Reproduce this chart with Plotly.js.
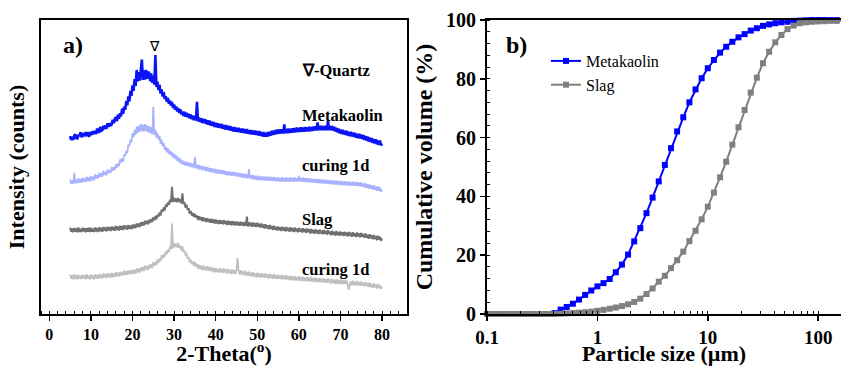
<!DOCTYPE html>
<html>
<head>
<meta charset="utf-8">
<script src="https://cdn.plot.ly/plotly-3.0.1.min.js"></script>
<style>html,body{margin:0;padding:0;background:#fff;}#chart{width:841px;height:366px;}</style>
</head>
<body>
<div id="chart"></div>
<script>
// ---------- Panel a) XRD patterns, 2-Theta from 5 to 80 in steps of 0.25 ----------
var thetaStart = 5;
var thetaStep = 0.25;
var xrdLabels = ["Metakaolin", "curing 1d", "Slag", "curing 1d"];

var metakaolin = [
60.5,59.2,60.2,59.2, 60.7,61.1,59.8,59.7, 60.9,60.5,61.8,60.1, 61.5,60.9,60.5,61.9, 60.5,61.9,60.6,60.7,
62.0,60.9,62.2,61.2, 62.3,61.2,63.1,61.7, 62.1,63.7,62.3,62.5, 64.0,62.9,64.2,63.0, 64.9,63.6,64.9,64.0,
64.5,66.1,64.9,66.3, 67.0,65.6,67.8,66.4, 68.3,67.2,69.8,68.1, 70.5,69.4,72.4,71.0, 74.0,72.3,75.9,74.2,
77.8,75.9,79.9,77.6, 83.0,79.1,82.3,79.4, 83.1,86.5,79.6,82.9, 79.7,83.0,80.0,82.4, 81.9,79.2,81.8,78.6,
81.1,78.0,88.1,77.2, 79.0,76.2,77.9,75.0, 76.4,74.0,75.4,73.1, 74.1,72.2,73.5,71.5, 72.6,70.9,72.1,70.1,
71.3,69.5,70.6,68.9, 70.1,68.4,69.6,67.9, 68.9,67.4,68.8,67.1, 68.4,66.9,68.1,66.5, 67.8,66.3,67.5,65.9,
67.3,65.8,72.2,65.5, 66.8,65.3,66.6,65.0, 66.4,64.9,66.2,64.6, 65.9,64.4,65.8,64.1, 65.5,64.0,65.3,63.6,
65.0,63.5,64.9,63.4, 64.7,63.2,64.6,63.0, 64.3,62.8,64.3,62.7, 64.0,62.5,63.9,62.3, 63.6,62.1,63.6,62.0,
63.3,61.9,63.3,61.8, 63.1,61.7,63.1,61.6, 62.9,61.4,62.9,61.3, 62.6,61.2,62.6,61.1, 62.4,61.0,62.4,60.9,
62.2,60.7,62.2,60.6, 61.9,60.4,61.9,60.3, 61.6,60.3,61.9,60.5, 62.0,60.7,62.3,60.9, 62.4,61.1,62.7,61.2,
62.7,61.3,62.8,61.4, 62.8,61.4,64.5,61.5, 62.9,61.5,63.1,61.6, 63.0,61.7,63.2,61.8, 63.2,61.8,63.4,61.9,
63.3,61.9,63.5,62.0, 63.4,62.0,63.6,62.1, 63.5,62.1,63.7,62.2, 63.6,62.3,63.8,62.4, 63.8,62.4,65.2,62.5,
63.9,62.5,64.0,62.5, 63.9,62.5,64.0,62.5, 65.8,62.5,64.0,62.5, 63.9,62.4,63.7,62.1, 63.3,61.8,63.1,61.5,
62.7,61.2,62.7,61.1, 62.4,60.9,62.3,60.7, 62.0,60.5,62.0,60.4, 61.7,60.2,61.6,60.0, 61.3,59.8,61.3,59.7,
61.0,59.5,60.9,59.2, 60.5,59.0,60.4,58.7, 60.0,58.5,59.9,58.2, 59.5,58.0,59.4,57.7, 59.0,57.5,59.0,57.4,
58.0];

var metakaolinCured = [
45.8,44.3,45.4,44.2, 48.0,44.5,45.7,44.4, 46.2,44.7,45.9,44.6, 46.4,45.0,46.1,44.9, 46.7,45.2,46.4,45.1,
46.9,45.5,46.7,45.5, 47.5,46.1,47.3,46.1, 48.1,46.7,47.9,46.7, 48.7,47.3,48.4,47.2, 49.2,47.9,49.0,48.0,
50.0,48.7,49.9,49.0, 50.9,49.8,51.3,50.3, 52.6,51.5,53.0,51.8, 54.3,53.7,55.6,54.7, 57.7,57.1,59.3,58.3,
61.5,60.1,62.6,60.9, 63.8,61.6,64.0,62.0, 64.6,62.2,64.4,62.0, 64.6,62.2,64.2,61.8, 63.9,61.5,63.6,61.1,
70.5,60.9,62.7,60.1, 61.6,59.3,60.6,57.9, 59.3,57.1,58.2,55.9, 56.9,55.0,56.4,54.4, 55.6,53.9,55.1,53.2,
54.5,52.7,54.0,52.1, 53.4,51.6,52.8,51.0, 52.2,50.8,51.9,50.4, 51.8,50.4,51.5,50.0, 51.4,50.0,51.1,49.6,
53.5,49.6,50.8,49.2, 50.7,49.2,50.4,48.9, 50.3,48.9,50.1,48.5, 50.0,48.5,49.7,48.2, 49.6,48.2,49.4,47.9,
49.3,47.9,49.1,47.7, 49.1,47.7,48.9,47.5, 48.9,47.4,48.6,47.2, 48.6,47.2,48.4,47.0, 48.4,47.0,48.2,46.8,
48.2,46.8,48.0,46.6, 48.0,46.5,47.7,46.3, 47.7,46.3,47.5,46.1, 49.3,46.1,47.2,45.8, 47.2,45.8,47.0,45.6,
47.0,45.6,46.8,45.5, 46.9,45.5,46.7,45.4, 46.8,45.4,46.6,45.3, 46.7,45.3,46.5,45.2, 46.6,45.2,46.4,45.1,
46.5,45.1,46.3,45.0, 46.5,45.1,46.3,45.0, 46.5,45.1,46.3,45.0, 46.5,45.1,46.3,45.0, 46.5,45.1,46.3,45.0,
47.0,45.1,46.3,45.0, 46.4,45.0,46.2,44.9, 46.3,44.9,46.1,44.7, 46.1,44.7,45.9,44.6, 46.0,44.6,45.8,44.5,
45.9,44.5,45.7,44.4, 45.8,44.4,45.6,44.3, 45.7,44.3,45.4,44.1, 45.5,44.1,45.3,44.0, 45.4,44.0,45.2,43.9,
45.3,43.9,45.1,43.8, 45.2,43.8,45.0,43.7, 45.1,43.7,44.9,43.6, 45.0,43.6,44.8,43.5, 44.9,43.5,44.7,43.4,
44.8,43.3,44.4,43.1, 44.5,42.9,44.1,42.7, 44.1,42.6,43.8,42.3, 43.8,42.2,43.4,41.9, 43.4,41.9,43.1,41.6,
42.2];

var slag = [
29.3,28.0,29.1,27.8, 29.3,28.0,29.1,27.8, 29.4,27.9,29.0,27.9, 29.3,28.1,29.2,27.8, 29.2,28.0,29.3,27.9,
29.3,28.0,29.1,27.9, 29.4,28.1,29.2,27.9, 29.5,28.2,29.3,28.0, 29.6,28.3,29.4,28.1, 29.7,28.4,29.5,28.2,
29.8,28.5,29.6,28.3, 29.9,28.6,29.7,28.4, 30.0,28.7,29.9,28.6, 30.2,28.9,30.0,28.7, 30.3,29.0,30.1,28.8,
30.4,29.2,30.4,29.2, 30.8,29.6,30.8,29.6, 31.2,30.0,31.3,30.1, 31.7,30.5,31.7,30.5, 32.1,31.0,32.3,31.3,
32.9,31.9,33.3,32.2, 33.8,33.1,34.5,33.5, 35.5,34.8,36.2,35.2, 37.2,36.5,37.9,37.1, 38.9,38.0,43.3,38.1,
39.5,38.2,39.3,38.0, 39.5,38.1,39.0,37.6, 41.0,37.4,38.0,36.2, 37.2,35.4,36.0,34.1, 35.0,33.5,34.4,33.0,
34.1,32.8,33.5,32.0, 33.2,32.0,33.0,31.6, 32.9,31.6,32.6,31.3, 32.6,31.3,32.3,31.0, 32.4,31.0,32.1,30.8,
32.1,30.8,31.9,30.6, 32.0,30.7,31.8,30.5, 31.9,30.6,31.6,30.3, 31.7,30.4,31.5,30.2, 31.6,30.3,31.4,30.1,
31.5,30.2,31.3,30.0, 31.4,30.1,31.2,29.9, 31.3,30.0,33.1,29.8, 31.2,29.9,31.0,29.7, 31.1,29.8,30.9,29.6,
31.0,29.7,30.7,29.4, 30.8,29.4,30.4,29.1, 30.5,29.2,30.2,28.8, 30.3,28.9,29.9,28.6, 30.0,28.7,29.7,28.4,
29.8,28.5,29.5,28.2, 29.7,28.4,29.4,28.1, 29.6,28.3,29.3,28.0, 29.5,28.2,29.2,27.9, 29.4,28.1,29.1,27.8,
29.3,28.0,29.0,27.7, 29.2,27.9,28.9,27.6, 29.1,27.8,28.8,27.4, 28.9,27.6,28.6,27.3, 28.8,27.5,28.5,27.2,
28.7,27.4,28.4,27.1, 28.6,27.3,28.3,27.0, 28.5,27.2,28.1,26.8, 28.3,27.0,28.0,26.7, 28.2,26.9,27.9,26.6,
28.1,26.8,27.8,26.5, 28.0,26.7,27.7,26.4, 27.9,26.6,27.6,26.3, 27.8,26.5,27.5,26.2, 27.7,26.4,27.4,26.1,
27.6,26.3,27.2,25.9, 27.4,26.0,27.0,25.6, 27.1,25.8,26.8,25.4, 26.9,25.5,26.5,25.1, 26.6,25.3,26.3,24.9,
25.7];

var slagCured = [
13.4,12.0,13.1,11.8, 13.5,11.9,13.2,11.8, 13.4,12.0,13.0,11.9, 13.3,12.1,13.2,11.8, 13.5,12.0,13.1,11.7,
13.4,12.0,13.1,11.8, 13.5,12.1,13.3,12.0, 13.6,12.2,13.4,12.1, 13.8,12.4,13.5,12.3, 13.9,12.5,13.7,12.4,
14.0,12.6,13.8,12.6, 14.2,12.8,14.0,12.8, 14.4,13.1,14.3,13.1, 14.7,13.4,14.5,13.3, 14.9,13.6,14.7,13.5,
15.1,13.8,15.0,13.7, 15.5,14.2,15.4,14.1, 15.9,14.6,15.9,14.6, 16.4,15.1,16.3,15.0, 16.8,15.6,16.9,15.7,
17.6,16.4,17.8,16.7, 18.5,17.4,18.9,18.0, 19.9,18.9,20.3,19.4, 21.3,20.3,21.9,21.1, 23.0,22.0,30.8,22.3,
24.2,22.8,23.9,22.6, 24.2,22.5,23.3,21.6, 23.0,21.1,21.6,19.9, 20.8,18.8,19.3,17.6, 18.5,16.9,17.9,16.3,
17.7,16.1,17.0,15.4, 16.8,15.3,16.4,14.9, 16.5,15.0,16.1,14.8, 16.3,14.8,15.9,14.5, 16.0,14.5,15.6,14.2,
15.7,14.3,15.3,14.1, 15.6,14.2,15.3,14.0, 15.5,14.1,15.1,13.8, 15.3,13.9,15.0,13.7, 15.2,13.8,14.9,13.6,
15.1,19.0,14.7,13.4, 14.9,13.5,14.5,13.2, 14.7,13.2,14.3,12.9, 14.4,13.0,14.0,12.7, 14.2,12.8,13.8,12.5,
14.0,12.6,13.7,12.4, 13.9,12.5,13.6,12.3, 13.8,12.4,13.4,12.1, 13.6,12.2,13.3,12.0, 13.5,12.1,13.2,11.9,
13.4,12.0,13.1,11.8, 13.3,11.9,13.0,11.7, 13.2,11.8,12.8,11.5, 13.0,11.6,12.7,11.4, 12.9,11.5,12.6,11.3,
12.8,11.4,12.5,11.2, 12.7,11.3,12.4,11.1, 12.6,11.2,12.3,11.0, 12.5,11.1,12.2,10.9, 12.4,11.0,12.1,10.8,
12.3,10.9,12.0,10.7, 12.2,10.8,11.9,10.6, 12.1,10.7,11.7,10.4, 11.9,10.5,11.6,10.3, 11.8,10.4,11.5,10.2,
11.7,10.3,11.4,10.1, 11.6,10.2,11.3,10.0, 8.2,10.1,11.1,9.8, 11.3,9.9,11.0,9.7, 11.2,9.8,10.9,9.6,
11.1,9.7,10.7,9.4, 10.9,9.5,10.5,9.2, 10.7,9.2,10.2,8.9, 10.4,9.0,10.0,8.7, 10.2,8.8,9.8,8.5,
9.3];

// ---------- Panel b) particle size distribution ----------
var particleSize = [
0.1,0.1136,0.1292,0.1468,0.1668,0.1896,0.2154,0.2448,0.2783,0.3162,
0.3594,0.4084,0.4642,0.5275,0.5995,0.6813,0.7743,0.8799,1.0,1.136,
1.292,1.468,1.668,1.896,2.154,2.448,2.783,3.162,3.594,4.084,
4.642,5.275,5.995,6.813,7.743,8.799,10.0,11.36,12.92,14.68,
16.68,18.96,21.54,24.48,27.83,31.62,35.94,40.84,46.42,52.75,
59.95,68.13,77.43,87.99,100.0,113.6,129.2,146.8,166.8];

var mkCumulative = [
0,0,0,0,0,0,0,0,0,0,
0,0.3,1.5,2.4,3.5,4.9,6.5,8.0,9.4,10.5,
11.9,14.2,16.8,20.2,24.7,29.2,34.3,39.6,45.1,50.7,
56.4,62.1,66.9,72.0,76.4,80.2,83.6,86.4,88.9,90.9,
92.6,94.1,95.2,96.4,97.2,98.0,98.5,98.9,99.2,99.4,
99.7,99.8,99.9,100,100,100,100,100,100];

var slagCumulative = [
0,0,0,0,0,0,0,0,0,0,
0,0,0.1,0.2,0.3,0.45,0.6,0.8,1.1,1.4,
1.8,2.2,2.7,3.3,4.1,5.2,6.8,8.7,11.0,13.0,
15.6,18.3,21.2,24.8,28.3,32.2,36.5,41.3,46.5,51.8,
57.6,63.5,69.4,75.3,80.4,85.3,89.2,92.4,94.9,96.9,
98.1,98.9,99.2,99.4,99.5,99.6,99.7,99.7,99.8];

var psdNames = ["Metakaolin", "Slag"];

var serif = "Liberation Serif";
var W = 841, H = 366;

var traces = [
  {x0: thetaStart, dx: thetaStep, y: metakaolin, type: 'scatter', mode: 'lines',
   line: {color: 'rgb(10,20,245)', width: 2.6}, xaxis: 'x', yaxis: 'y', showlegend: false, name: 'Metakaolin'},
  {x0: thetaStart, dx: thetaStep, y: metakaolinCured, type: 'scatter', mode: 'lines',
   line: {color: 'rgb(168,178,255)', width: 1.7}, xaxis: 'x', yaxis: 'y', showlegend: false, name: 'MK curing 1d'},
  {x0: thetaStart, dx: thetaStep, y: slag, type: 'scatter', mode: 'lines',
   line: {color: 'rgb(112,112,112)', width: 2.0}, xaxis: 'x', yaxis: 'y', showlegend: false, name: 'Slag'},
  {x0: thetaStart, dx: thetaStep, y: slagCured, type: 'scatter', mode: 'lines',
   line: {color: 'rgb(192,192,192)', width: 1.8}, xaxis: 'x', yaxis: 'y', showlegend: false, name: 'Slag curing 1d'},
  {x: particleSize, y: mkCumulative, type: 'scatter', mode: 'lines+markers', name: psdNames[0],
   line: {color: 'rgb(0,0,255)', width: 2}, marker: {symbol: 'square', size: 6, color: 'rgb(0,0,255)'},
   xaxis: 'x2', yaxis: 'y2', cliponaxis: false},
  {x: particleSize, y: slagCumulative, type: 'scatter', mode: 'lines+markers', name: psdNames[1],
   line: {color: 'rgb(128,128,128)', width: 2}, marker: {symbol: 'square', size: 6, color: 'rgb(128,128,128)'},
   xaxis: 'x2', yaxis: 'y2', cliponaxis: false}
];

var axisCommon = {
  showgrid: false, zeroline: false, showline: true, linecolor: 'black', linewidth: 2,
  tickcolor: 'black', tickwidth: 1.5, ticks: 'outside', ticklen: 5,
  automargin: false
};

function merge(a, b) { var o = {}; for (var k in a) o[k] = a[k]; for (var k2 in b) o[k2] = b[k2]; return o; }

var layout = {
  width: W, height: H,
  margin: {l: 0, r: 0, t: 0, b: 0},
  paper_bgcolor: 'white', plot_bgcolor: 'white',
  font: {family: serif, color: 'black'},
  showlegend: true,
  legend: {x: 546 / W, y: 1 - 44 / H, xanchor: 'left', yanchor: 'top',
           font: {family: serif, size: 16, color: 'black'}, bgcolor: 'rgba(0,0,0,0)',
           tracegroupgap: 0},
  xaxis: merge(axisCommon, {
    domain: [41 / W, 407 / W], range: [-2, 86], anchor: 'y',
    dtick: 10, tick0: 0, mirror: true,
    tickfont: {family: serif, size: 16, color: 'black', weight: 'bold'},
    minor: {dtick: 2, ticks: 'inside', ticklen: 3, tickcolor: 'black', tickwidth: 1},
    title: {text: '2-Theta(<sup>o</sup>)', font: {family: serif, size: 22, color: 'black', weight: 'bold'}, standoff: 6}
  }),
  yaxis: merge(axisCommon, {
    domain: [1 - 314 / H, 1 - 20 / H], range: [0, 100], anchor: 'x',
    ticks: '', showticklabels: false, mirror: true,
    title: {text: 'Intensity (counts)', font: {family: serif, size: 22, color: 'black', weight: 'bold'}, standoff: 8}
  }),
  xaxis2: merge(axisCommon, {
    domain: [487 / W, 1], type: 'log', range: [-1, 2.2065], anchor: 'y2',
    dtick: 1, mirror: true,
    tickfont: {family: serif, size: 19, color: 'black', weight: 'bold'},
    minor: {dtick: 'D1', ticks: 'inside', ticklen: 3, tickcolor: 'black', tickwidth: 1},
    title: {text: 'Particle size (µm)', font: {family: serif, size: 22, color: 'black', weight: 'bold'}, standoff: 1}
  }),
  yaxis2: merge(axisCommon, {
    domain: [1 - 314 / H, 1 - 20 / H], range: [0, 100], anchor: 'x2',
    dtick: 20, mirror: false,
    tickfont: {family: serif, size: 20, color: 'black', weight: 'bold'},
    minor: {dtick: 4, ticks: 'inside', ticklen: 3, tickcolor: 'black', tickwidth: 1},
    title: {text: 'Cumulative volume (%)', font: {family: serif, size: 24, color: 'black', weight: 'bold'}, standoff: 7}
  }),
  annotations: [
    {text: 'a)', x: 5.7, y: 91.5, xref: 'x', yref: 'y', showarrow: false,
     font: {family: serif, size: 24, color: 'black', weight: 'bold'}},
    {text: '\u2207', x: 25.3, y: 91.0, xref: 'x', yref: 'y', showarrow: false,
     font: {family: serif, size: 14, color: 'black'}},
    {text: '\u2207-Quartz', x: 60.3, y: 82.8, xref: 'x', yref: 'y', xanchor: 'left', showarrow: false,
     font: {family: serif, size: 16.5, color: 'black', weight: 'bold'}},
    {text: xrdLabels[0], x: 60.3, y: 67.4, xref: 'x', yref: 'y', xanchor: 'left', showarrow: false,
     font: {family: serif, size: 16.5, color: 'black', weight: 'bold'}},
    {text: xrdLabels[1], x: 60.3, y: 50.4, xref: 'x', yref: 'y', xanchor: 'left', showarrow: false,
     font: {family: serif, size: 16.5, color: 'black', weight: 'bold'}},
    {text: xrdLabels[2], x: 60.3, y: 32.0, xref: 'x', yref: 'y', xanchor: 'left', showarrow: false,
     font: {family: serif, size: 16.5, color: 'black', weight: 'bold'}},
    {text: xrdLabels[3], x: 60.3, y: 15.2, xref: 'x', yref: 'y', xanchor: 'left', showarrow: false,
     font: {family: serif, size: 16.5, color: 'black', weight: 'bold'}},
    {text: 'b)', x: -0.737, y: 91.5, xref: 'x2', yref: 'y2', showarrow: false,
     font: {family: serif, size: 24, color: 'black', weight: 'bold'}}
  ]
};

Plotly.newPlot('chart', traces, layout, {displayModeBar: false, staticPlot: true});
</script>
</body>
</html>
